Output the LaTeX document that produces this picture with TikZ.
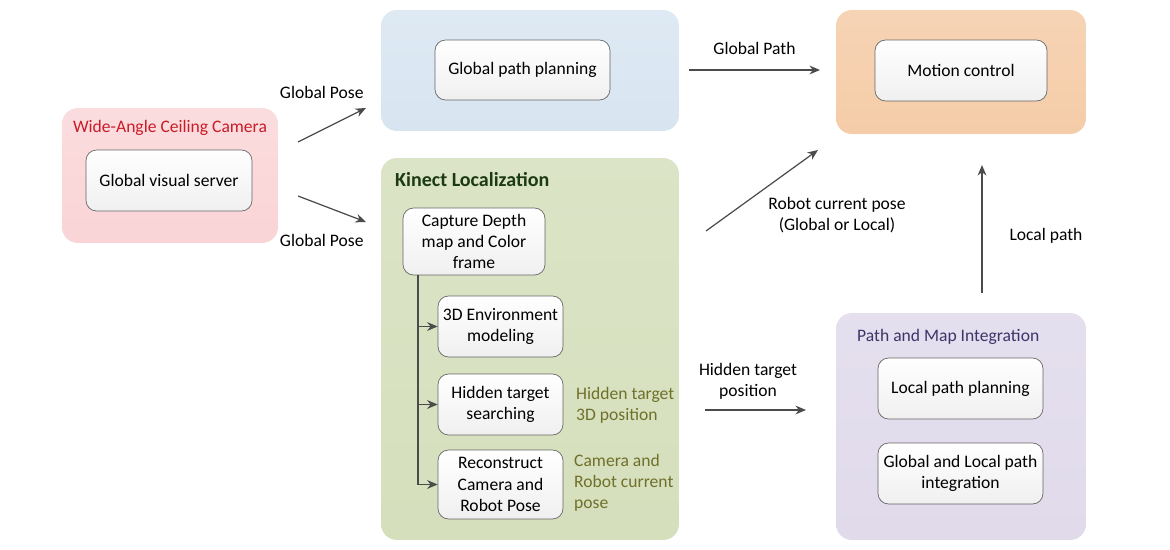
\documentclass[tikz,border=0pt]{standalone}
\usepackage{fontspec}
\setmainfont{Carlito}
\usepackage{xcolor}
\usetikzlibrary{arrows.meta,positioning}

\definecolor{camfill}{RGB}{250,212,214}
\definecolor{planfill}{RGB}{216,229,241}
\definecolor{kinfill}{RGB}{213,223,188}
\definecolor{motfill}{RGB}{245,204,168}
\definecolor{integfill}{RGB}{224,218,235}
\definecolor{camred}{RGB}{200,28,40}
\definecolor{kingreen}{RGB}{28,58,20}
\definecolor{integblue}{RGB}{62,52,104}
\definecolor{olive}{RGB}{112,112,42}
\definecolor{arrowgray}{RGB}{75,75,75}

\tikzset{
	group/.style={rounded corners=9pt, draw=none},
	stepbox/.style={draw=gray!80!black, rounded corners=6pt, top color=white,
		bottom color=gray!12, align=center, inner sep=2pt},
	flow/.style={draw=arrowgray, line width=0.7pt, -{Stealth[length=6pt,width=5pt]}}
}

\begin{document}
\begin{tikzpicture}[x=0.02cm,y=-0.02cm,font=\fontsize{10}{12}\selectfont]
	\useasboundingbox (0,0) rectangle (1170,550);
	%
	% containers
	\node[group, top color=camfill!80, bottom color=camfill, minimum width=4.32cm, minimum height=2.70cm] (cam) at (170,175.5) {};
	\node[group, top color=planfill!85, bottom color=planfill, minimum width=5.96cm, minimum height=2.42cm] (plan) at (530,70.5) {};
	\node[group, top color=kinfill!85, bottom color=kinfill, minimum width=5.96cm, minimum height=7.64cm] (kin) at (530,349) {};
	\node[group, top color=motfill!85, bottom color=motfill, minimum width=5.00cm, minimum height=2.48cm] (mot) at (961,72) {};
	\node[group, top color=integfill!85, bottom color=integfill, minimum width=5.00cm, minimum height=4.54cm] (integ) at (961,426.5) {};
	%
	% titles
	\node[text=camred] (camtitle) at (170,128) {Wide-Angle Ceiling Camera};
	\node[text=kingreen, anchor=west, font=\fontsize{11.4}{13}\selectfont\bfseries] (kintitle) at (389,180) {Kinect Localization};
	\node[text=integblue, anchor=west] (integtitle) at (851,337) {Path and Map Integration};
	%
	% inner boxes
	\node[stepbox, minimum width=3.32cm, minimum height=1.22cm] (gvs) at (169,180.5) {Global visual server};
	\node[stepbox, minimum width=3.50cm, minimum height=1.20cm] (gpp) at (522.5,70) {Global path planning};
	\node[stepbox, minimum width=3.44cm, minimum height=1.22cm] (mc) at (961,70.5) {Motion control};
	\node[stepbox, minimum width=3.30cm, minimum height=1.22cm] (lpp) at (960.5,388.5) {Local path planning};
	\node[stepbox, minimum width=3.30cm, minimum height=1.22cm] (glpi) at (960.5,473.5) {Global and Local path\\integration};
	\node[stepbox, minimum width=2.84cm, minimum height=1.34cm] (cap) at (474,241.5) {Capture Depth\\map and Color\\frame};
	\node[stepbox, minimum width=2.50cm, minimum height=1.22cm] (env) at (500.5,326.5) {3D Environment\\modeling};
	\node[stepbox, minimum width=2.50cm, minimum height=1.22cm] (hid) at (500.5,404.5) {Hidden target\\searching};
	\node[stepbox, minimum width=2.50cm, minimum height=1.38cm] (rec) at (500.5,484.5) {Reconstruct\\Camera and\\Robot Pose};
	%
	% side notes
	\node[text=olive, anchor=west, align=left] (hidnote) at (570,405) {Hidden target\\3D position};
	\node[text=olive, anchor=west, align=left] (recnote) at (568,483) {Camera and\\Robot current\\pose};
	%
	% arrow ends
	\coordinate (gp1s) at (298,142);
	\coordinate (gp1e) at (366,108);
	\coordinate (gp2s) at (298,196);
	\coordinate (gp2e) at (366,222);
	\coordinate (paths) at (689,70);
	\coordinate (pathe) at (820,70);
	\coordinate (poses) at (706,231);
	\coordinate (posee) at (818,150);
	\coordinate (locs) at (982,293);
	\coordinate (loce) at (982,165);
	\coordinate (hids) at (705,410);
	\coordinate (hide) at (806,410);
	\coordinate (trunk) at (418,275);
	%
	\path[every edge/.append style={flow}]
		(gp1s) edge node[above=14pt, pos=0.35]{Global Pose} (gp1e)
		(gp2s) edge node[below=13pt, pos=0.35]{Global Pose} (gp2e)
		(paths) edge node[above=5pt]{Global Path} (pathe)
		(poses) edge (posee)
		(locs) edge (loce)
		(hids) edge (hide);
	%
	\node[align=center] (poselbl) at (837,215) {Robot current pose\\(Global or Local)};
	\node (loclbl) at (1046,236) {Local path};
	\node[align=center] (hidlbl) at (748,381) {Hidden target\\position};
	%
	\draw[flow] (trunk) |- (env.west);
	\draw[flow] (trunk) |- (hid.west);
	\draw[flow] (trunk) |- (rec.west);
\end{tikzpicture}
\end{document}
